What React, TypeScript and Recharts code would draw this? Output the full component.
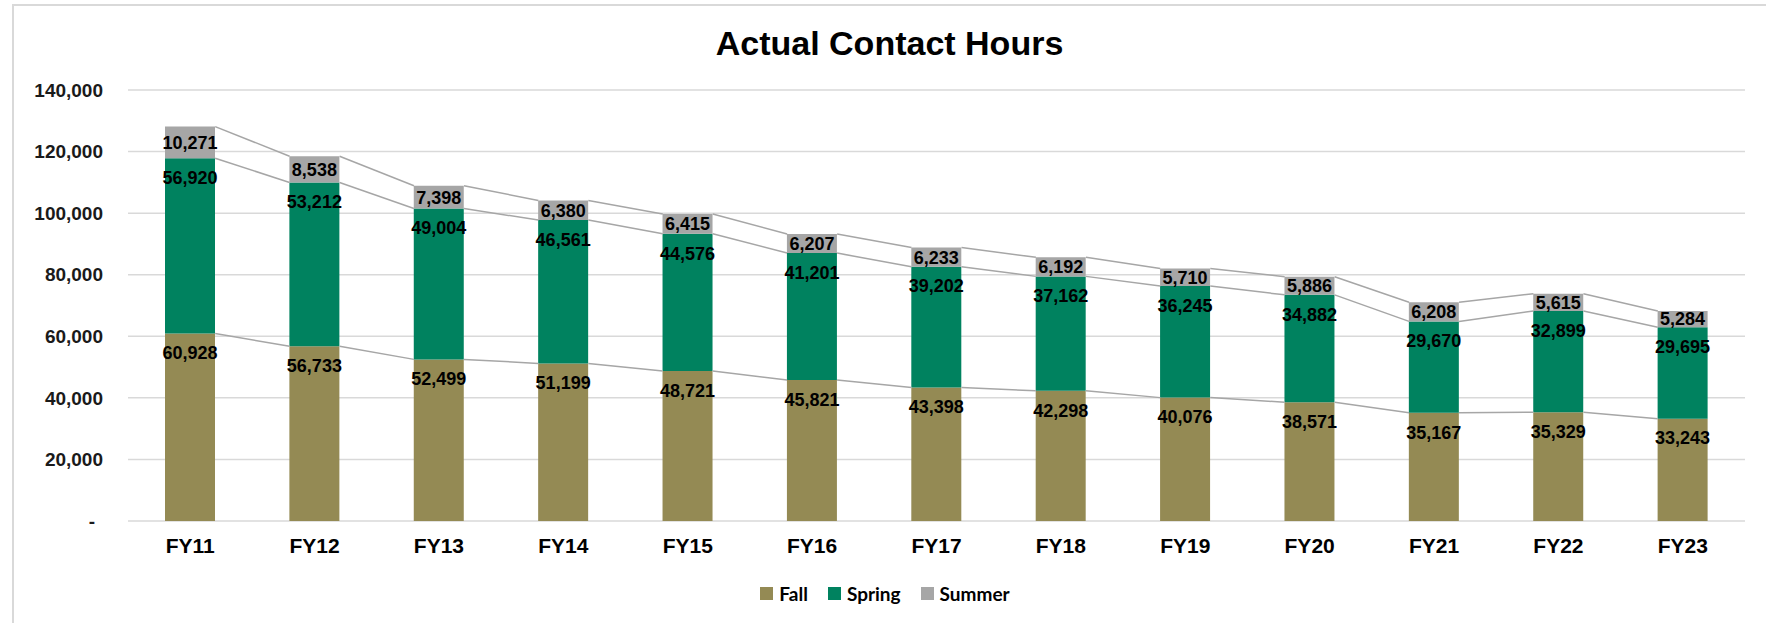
import React from "react";
import { ComposedChart, Bar, Line, XAxis, YAxis, CartesianGrid, Legend, LabelList } from "recharts";

const years = ["FY11", "FY12", "FY13", "FY14", "FY15", "FY16", "FY17", "FY18", "FY19", "FY20", "FY21", "FY22", "FY23"];
const fall = [60928, 56733, 52499, 51199, 48721, 45821, 43398, 42298, 40076, 38571, 35167, 35329, 33243];
const spring = [56920, 53212, 49004, 46561, 44576, 41201, 39202, 37162, 36245, 34882, 29670, 32899, 29695];
const summer = [10271, 8538, 7398, 6380, 6415, 6207, 6233, 6192, 5710, 5886, 6208, 5615, 5284];
const yTicks = [0, 20000, 40000, 60000, 80000, 100000, 120000, 140000];

const FALL = "#948A54";
const SPRING = "#00825F";
const SUMMER = "#A6A6A6";
const GRID = "#D9D9D9";
const ARIAL = "Arial, 'Liberation Sans', sans-serif";
const BAR_SIZE = 50;

const data = years.map((name, i) => ({
  name,
  fall: fall[i],
  spring: spring[i],
  summer: summer[i],
  fallTop: fall[i],
  springTop: fall[i] + spring[i],
  summerTop: fall[i] + spring[i] + summer[i],
}));

const fmt = (v: number) => v.toLocaleString("en-US");

// Excel style "series lines": from right edge of one bar segment to left edge of the next
const connector = (key: string) => (props: any) => {
  const { cx, cy, index, points } = props;
  if (!points || index >= points.length - 1) return <g key={`c-${key}-${index}`} />;
  const next = points[index + 1];
  return (
    <line
      key={`c-${key}-${index}`}
      x1={cx + BAR_SIZE / 2}
      y1={cy}
      x2={next.x - BAR_SIZE / 2}
      y2={next.y}
      stroke={SUMMER}
      strokeWidth={1.5}
    />
  );
};

const YTick = (props: any) => {
  const { x, y, payload } = props;
  const zero = payload.value === 0;
  return (
    <text
      x={zero ? x - 8 : x}
      y={y}
      dy="0.355em"
      textAnchor="end"
      fontFamily={ARIAL}
      fontWeight="bold"
      fontSize={19}
      fill="#1a1a1a"
    >
      {zero ? "-" : fmt(payload.value)}
    </text>
  );
};

const LegendContent = (props: any) => {
  const items = (props.payload || []).filter((p: any) => ["fall", "spring", "summer"].includes(p.dataKey));
  return (
    <div style={{ display: "flex", justifyContent: "center", alignItems: "center", height: 26 }}>
      {items.map((p: any) => (
        <div key={p.dataKey} style={{ display: "flex", alignItems: "center", marginRight: 20 }}>
          <div style={{ width: 13, height: 13, background: p.color, marginRight: 6 }} />
          <span style={{ fontFamily: "Lato, 'Open Sans', sans-serif", fontWeight: 700, fontSize: 19, color: "#000" }}>
            {p.value}
          </span>
        </div>
      ))}
    </div>
  );
};

export default function App() {
  return (
    <div style={{ position: "absolute", left: 0, top: 0, width: 1766, height: 623, background: "#fff", overflow: "hidden" }}>
      <div
        style={{
          position: "absolute",
          left: 12,
          top: 4,
          width: 1800,
          height: 700,
          borderTop: `2px solid ${GRID}`,
          borderLeft: `2px solid ${GRID}`,
        }}
      />
      <div
        style={{
          position: "absolute",
          left: 0,
          top: 26,
          width: 1779,
          textAlign: "center",
          fontFamily: ARIAL,
          fontWeight: "bold",
          fontSize: 34,
          lineHeight: "34px",
          color: "#000",
        }}
      >
        Actual Contact Hours
      </div>
      <div style={{ position: "absolute", left: 0, top: 0 }}>
        <ComposedChart width={1766} height={623} data={data} margin={{ top: 90, right: 21, left: 0, bottom: 72 }} barCategoryGap={0}>
          <CartesianGrid vertical={false} stroke={GRID} strokeWidth={1.5} />
          <XAxis
            dataKey="name"
            height={30}
            axisLine={false}
            tickLine={false}
            tickSize={0}
            tickMargin={17}
            tick={{ fontFamily: ARIAL, fontWeight: "bold", fontSize: 21, fill: "#000" }}
          />
          <YAxis
            width={128}
            domain={[0, 140000]}
            ticks={yTicks}
            axisLine={false}
            tickLine={false}
            tickSize={0}
            tickMargin={25}
            tick={<YTick />}
          />
          <Legend
            layout="horizontal"
            verticalAlign="middle"
            align="center"
            wrapperStyle={{ top: 580, left: 0, width: 1790 }}
            content={<LegendContent />}
          />
          <Bar dataKey="fall" name="Fall" stackId="a" fill={FALL} barSize={BAR_SIZE} isAnimationActive={false}>
            <LabelList
              dataKey="fall"
              position="insideTop"
              offset={13}
              formatter={(v: any) => fmt(Number(v))}
              style={{ fontFamily: ARIAL, fontWeight: "bold", fontSize: 18, fill: "#000" }}
            />
          </Bar>
          <Bar dataKey="spring" name="Spring" stackId="a" fill={SPRING} barSize={BAR_SIZE} isAnimationActive={false}>
            <LabelList
              dataKey="spring"
              position="insideTop"
              offset={13}
              formatter={(v: any) => fmt(Number(v))}
              style={{ fontFamily: ARIAL, fontWeight: "bold", fontSize: 18, fill: "#000" }}
            />
          </Bar>
          <Bar dataKey="summer" name="Summer" stackId="a" fill={SUMMER} barSize={BAR_SIZE} isAnimationActive={false}>
            <LabelList
              dataKey="summer"
              position="center"
              formatter={(v: any) => fmt(Number(v))}
              style={{ fontFamily: ARIAL, fontWeight: "bold", fontSize: 18, fill: "#000" }}
            />
          </Bar>
          <Line dataKey="fallTop" stroke="none" dot={connector("f")} activeDot={false} legendType="none" isAnimationActive={false} />
          <Line dataKey="springTop" stroke="none" dot={connector("s")} activeDot={false} legendType="none" isAnimationActive={false} />
          <Line dataKey="summerTop" stroke="none" dot={connector("u")} activeDot={false} legendType="none" isAnimationActive={false} />
        </ComposedChart>
      </div>
    </div>
  );
}
